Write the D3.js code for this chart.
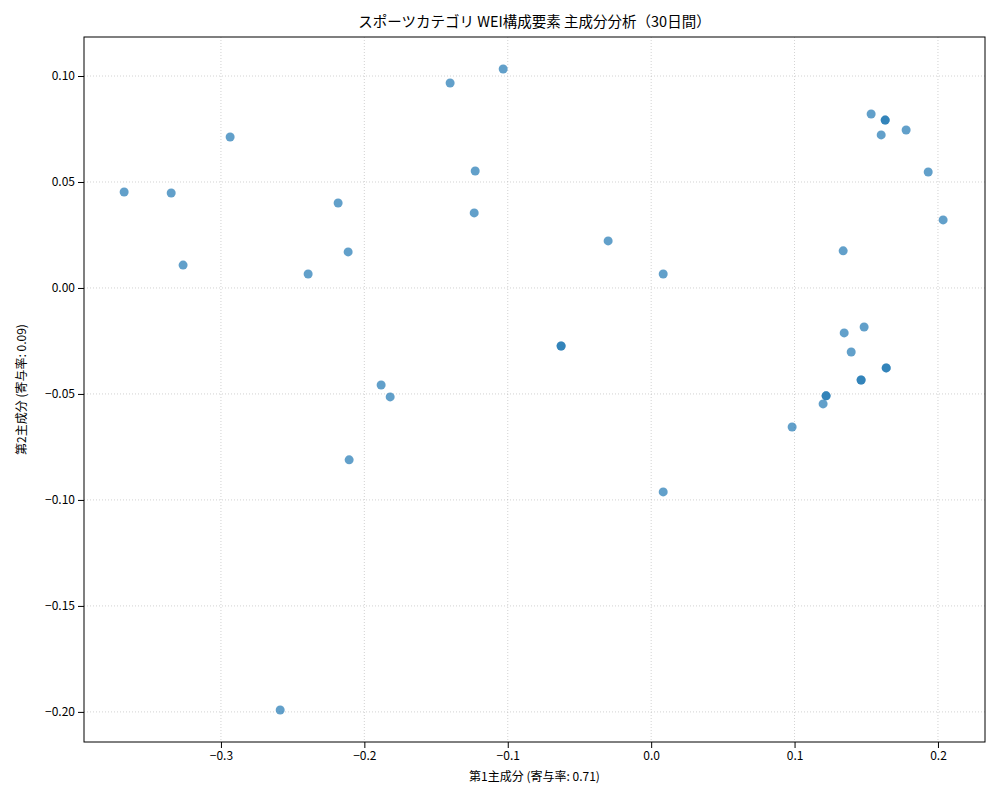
<!DOCTYPE html>
<html><head><meta charset="utf-8">
<script src="https://cdn.jsdelivr.net/npm/d3@7"></script>
<style>body{margin:0;background:#fff;font-family:"Noto Sans CJK JP","DejaVu Sans",sans-serif;}</style>
</head><body><svg id="chart" width="1000" height="800"></svg>
<script>
const pc1 = [-0.3675,-0.3347,-0.3264,-0.2936,-0.2587,-0.2392,-0.2183,-0.2113,-0.2106,-0.1883,-0.1820,-0.1402,-0.1227,-0.1234,-0.1032,-0.0628,-0.0628,-0.0300,0.0084,0.0084,0.0983,0.1199,0.1220,0.1220,0.1339,0.1346,0.1395,0.1464,0.1464,0.1485,0.1534,0.1604,0.1632,0.1632,0.1639,0.1639,0.1778,0.1932,0.2036];
const pc2 = [0.0453,0.0448,0.0108,0.0712,-0.1991,0.0066,0.0401,0.0170,-0.0811,-0.0458,-0.0514,0.0967,0.0552,0.0354,0.1033,-0.0274,-0.0274,0.0222,0.0066,-0.0962,-0.0656,-0.0547,-0.0509,-0.0509,0.0175,-0.0212,-0.0302,-0.0434,-0.0434,-0.0184,0.0821,0.0722,0.0792,0.0792,-0.0377,-0.0377,0.0745,0.0547,0.0321];
const xTicks = [-0.3,-0.2,-0.1,0.0,0.1,0.2];
const yTicks = [0.10,0.05,0.00,-0.05,-0.10,-0.15,-0.20];

const svg = d3.select('#chart');
const L = 84, R = 985, T = 37, B = 742;
const x = d3.scaleLinear().domain([-0.3955,0.2328]).range([L,R]);
const y = d3.scaleLinear().domain([-0.2142,0.1184]).range([B,T]);
const fmt = d => (d < 0 ? '\u2212' : '') + Math.abs(d).toFixed(1);
const fmtY = d => (d < 0 ? '\u2212' : '') + Math.abs(d).toFixed(2);

// grid
svg.append('g').selectAll('line').data(xTicks).join('line')
  .attr('x1', d => x(d)).attr('x2', d => x(d)).attr('y1', T).attr('y2', B)
  .attr('stroke', '#b0b0b0').attr('stroke-width', 0.8).attr('stroke-dasharray', '1,2').attr('opacity', 0.7);
svg.append('g').selectAll('line').data(yTicks).join('line')
  .attr('y1', d => y(d)).attr('y2', d => y(d)).attr('x1', L).attr('x2', R)
  .attr('stroke', '#b0b0b0').attr('stroke-width', 0.8).attr('stroke-dasharray', '1,2').attr('opacity', 0.7);

svg.append('g').selectAll('circle').data(pc1).join('circle')
  .attr('cx', d => x(d)).attr('cy', (d,i) => y(pc2[i])).attr('r', 4.5)
  .attr('fill', '#1f77b4').attr('fill-opacity', 0.7);

svg.append('g').attr('transform', 'translate(0,' + B + ')')
  .call(d3.axisBottom(x).tickValues(xTicks).tickFormat(fmt).tickSizeOuter(0))
  .call(g => g.selectAll('text').attr('font-size', 12).attr('fill', '#000'));
svg.append('g').attr('transform', 'translate(' + L + ',0)')
  .call(d3.axisLeft(y).tickValues(yTicks).tickFormat(fmtY).tickSizeOuter(0))
  .call(g => g.selectAll('text').attr('font-size', 12).attr('fill', '#000'));
svg.selectAll('.domain').remove();
svg.append('rect').attr('x', L).attr('y', T).attr('width', R - L).attr('height', B - T)
  .attr('fill', 'none').attr('stroke', '#000').attr('stroke-width', 1);
svg.selectAll('text').attr('font-family', '"Noto Sans CJK JP","DejaVu Sans",sans-serif');

svg.append('text').attr('x', (L + R) / 2).attr('y', 27).attr('text-anchor', 'middle')
  .attr('font-size', 14.5).text('スポーツカテゴリ WEI構成要素 主成分分析（30日間）');
svg.append('text').attr('x', (L + R) / 2).attr('y', 781).attr('text-anchor', 'middle')
  .attr('font-size', 12).text('第1主成分 (寄与率: 0.71)');
svg.append('text').attr('transform', 'translate(26,' + ((T + B) / 2) + ') rotate(-90)')
  .attr('text-anchor', 'middle').attr('font-size', 12).text('第2主成分 (寄与率: 0.09)');
</script></body></html>
